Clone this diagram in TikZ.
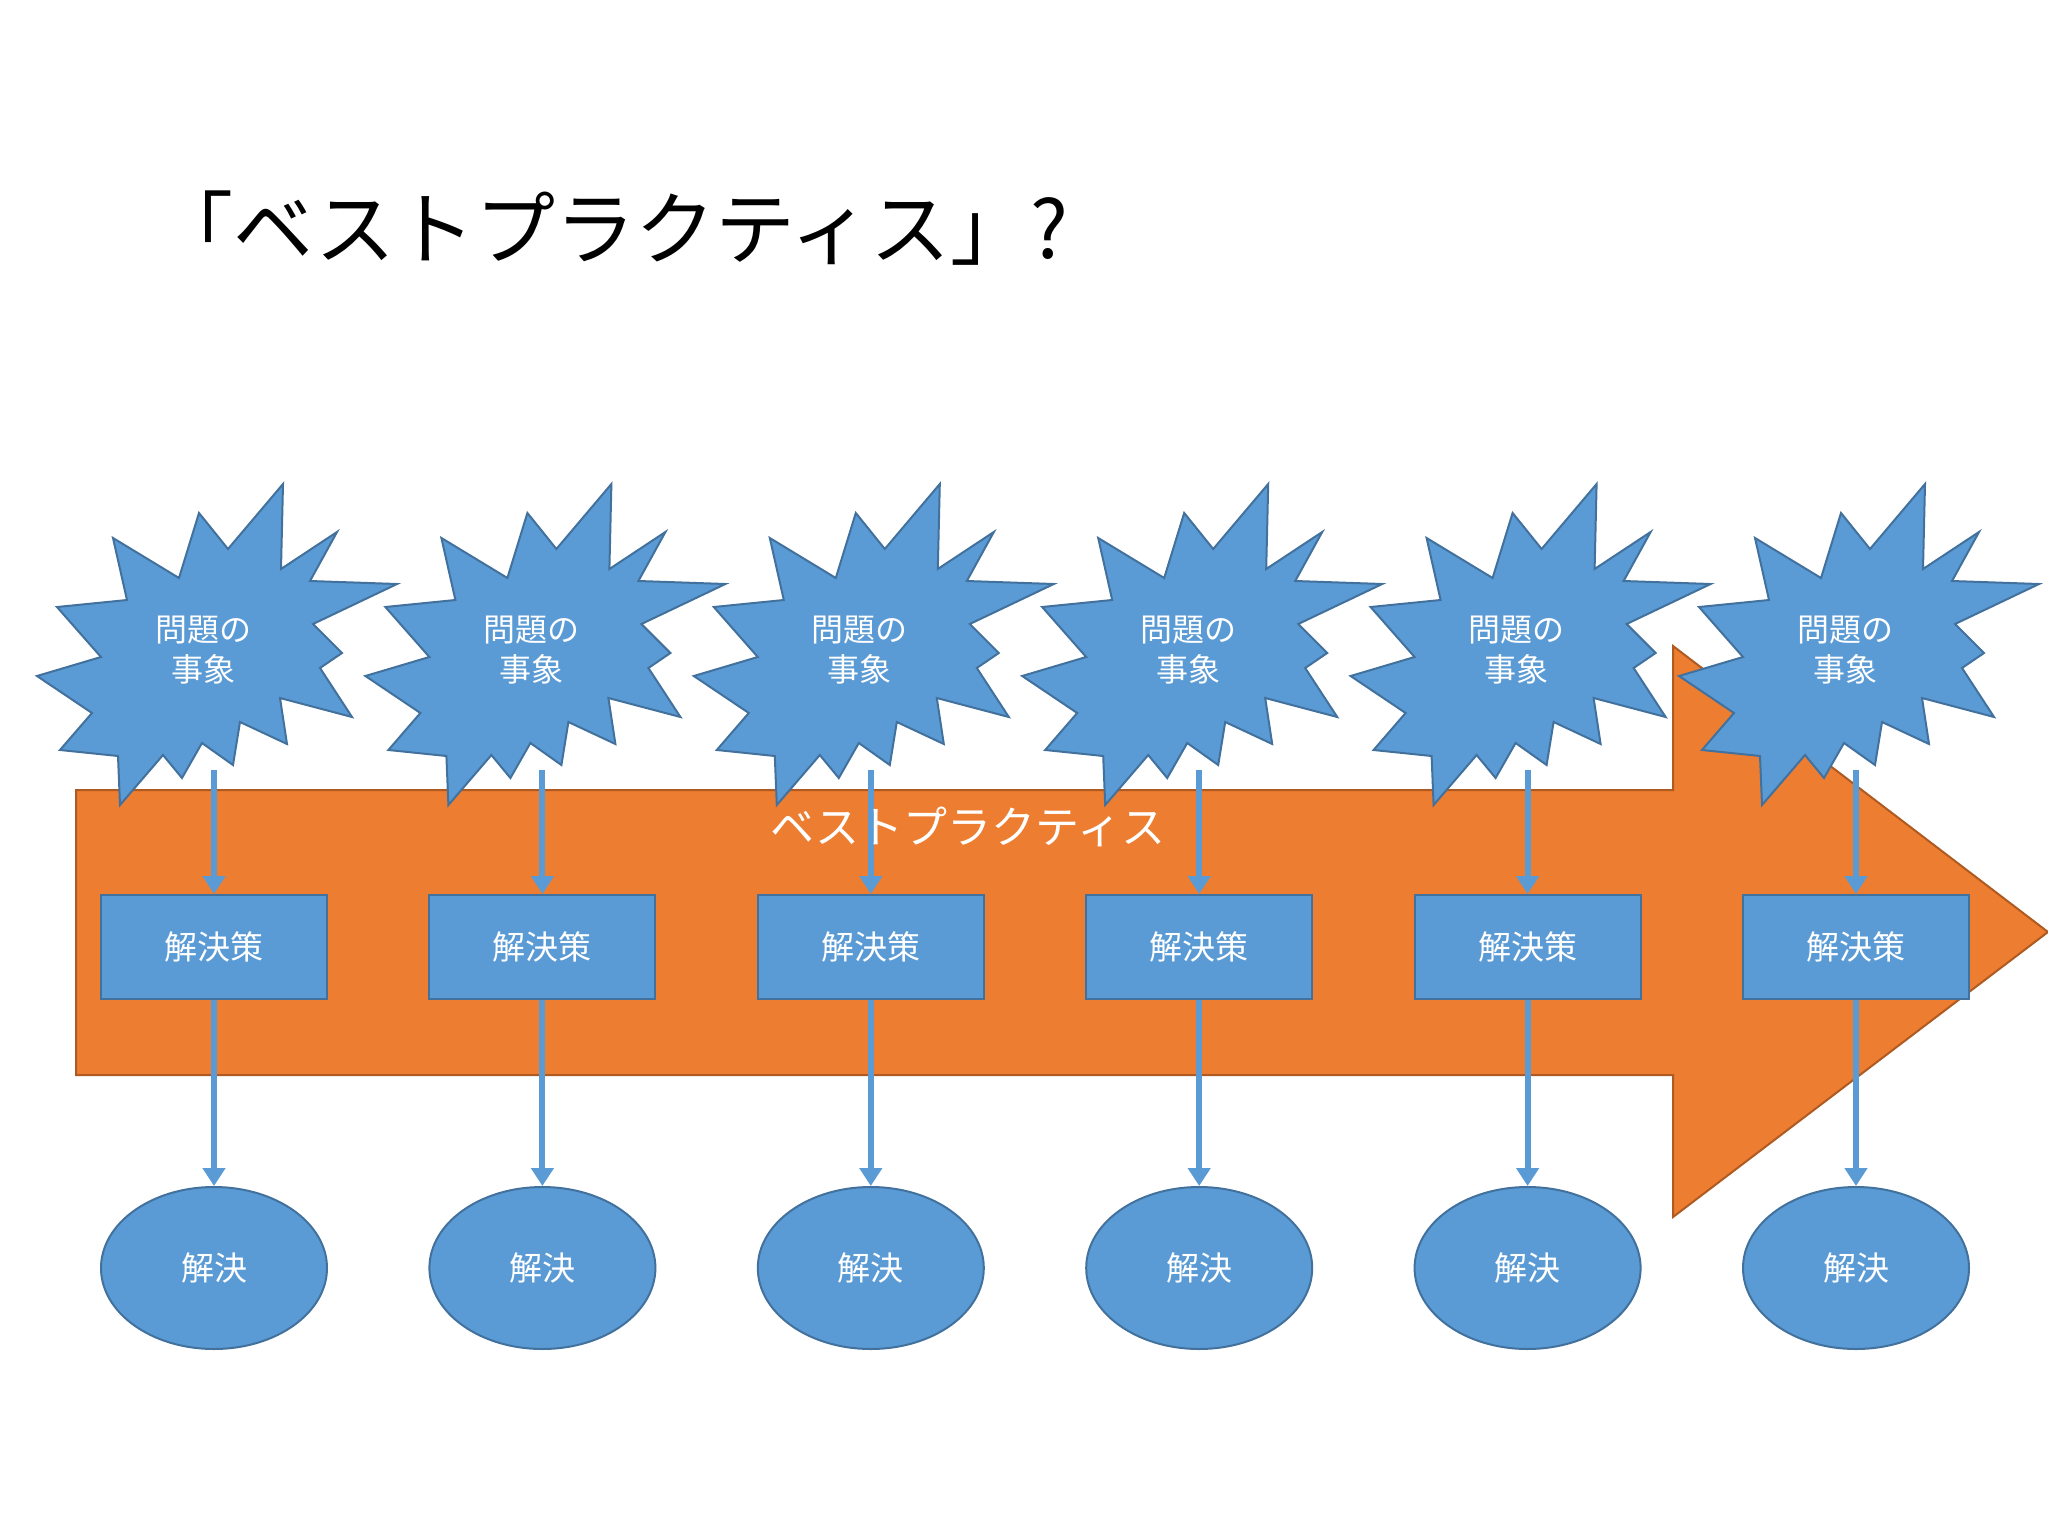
\documentclass[tikz,border=0pt]{standalone}
\usepackage{fontspec}
\setmainfont{Noto Sans CJK JP}
\usetikzlibrary{arrows.meta,shapes.geometric}
\definecolor{bl}{HTML}{5B9BD5}
\definecolor{bld}{HTML}{41719C}
\definecolor{org}{HTML}{ED7D31}
\definecolor{orgd}{HTML}{AE5A21}
\tikzset{
  boxs/.style={draw=bld,fill=bl,line width=2pt,minimum width=226pt,minimum height=104pt,text=white,font=\fontsize{33}{40}\selectfont},
  ells/.style={ellipse,draw=bld,fill=bl,line width=2pt,minimum width=226pt,minimum height=162pt,text=white,font=\fontsize{33}{40}\selectfont},
  burst/.style={draw=bld,fill=bl,line width=2pt},
  btxt/.style={text=white,align=center,font=\fontsize{32}{40}\selectfont},
  conn/.style={draw=bl,line width=6pt,-{Triangle[length=18pt,width=22pt]}}
}
\begin{document}
\begin{tikzpicture}[x=1pt,y=-1pt]
\useasboundingbox[fill=white] (0,0) rectangle (2048,1536);
\node[anchor=west,font=\fontsize{80}{90}\selectfont] (title) at (150,228) {「ベストプラクティス」?};
\draw[fill=org,draw=orgd,line width=2pt] (76,790) -- (1673,790) -- (1673,646) -- (2048,932) -- (1673,1217) -- (1673,1075) -- (76,1075) -- cycle;
\foreach \i in {1,...,6}{
  \pgfmathsetmacro{\cx}{214+328.4*(\i-1)}
  \begin{scope}[shift={(\cx,0)}]
    \coordinate (c\i) at (0,770);
    \node[boxs] (s\i) at (0,947) {解決策};
    \node[ells] (e\i) at (0,1268) {解決};
    \draw[conn] (c\i) -- (s\i.north);
    \draw[conn] (s\i.south) -- (e\i.north);
  \end{scope}
}
\foreach \i in {1,...,6}{
  \pgfmathsetmacro{\cx}{328.4*(\i-1)}
  \begin{scope}[shift={(\cx,0)}]
  \draw[burst] (283,484) -- (281,569) -- (337,532) -- (310,581) -- (397,584) -- (313,624) -- (342,653) -- (320,668) -- (352,717) -- (280,698) -- (287,744) -- (240,722) -- (233,765) -- (202,743) -- (182,778) -- (163,755) -- (120,805) -- (118,756) -- (60,750) -- (92,713) -- (37,676) -- (101,657) -- (57,607) -- (127,600) -- (113,538) -- (179,578) -- (199,513) -- (228,549) -- cycle;
  \node[btxt] (b\i) at (203,650) {問題の\\事象};
  \end{scope}
}
\node[text=white,font=\fontsize{44}{50}\selectfont] (lab) at (968,827) {ベストプラクティス};
\end{tikzpicture}
\end{document}
